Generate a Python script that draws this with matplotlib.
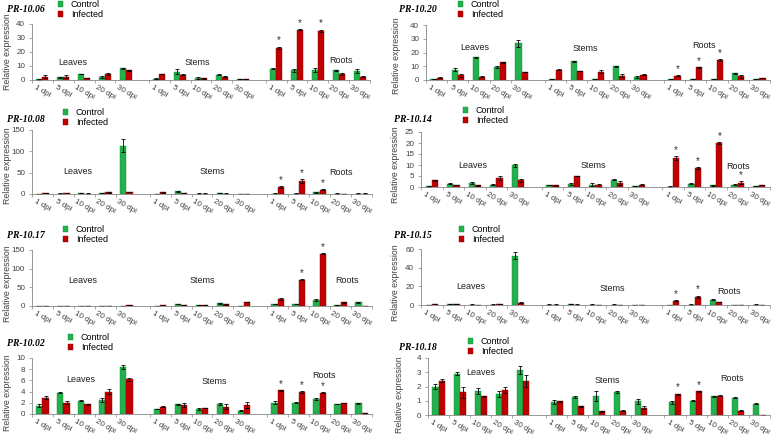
import numpy as np
import matplotlib
matplotlib.use('Agg')
import matplotlib.pyplot as plt

W, H = 778, 438
GREEN = '#22b14c'
RED = '#c00000'
GREY = '#868686'
TXT = '#404040'

plt.rcParams.update({
    'font.family': ['Liberation Sans', 'DejaVu Sans'],
    'font.size': 6,
})

# ── Categories ───────────────────────────────────────────────────────
DPI = ['1 dpi', '5 dpi', '10 dpi', '20 dpi', '30 dpi']
TISSUES = ['Leaves', 'Stems', 'Roots']
XLABELS = DPI * 3

# ── Data ─────────────────────────────────────────────────────────────
pr1006_ctrl = [0.5, 2.0, 4.3, 2.2, 8.3, 1.0, 6.0, 1.7, 3.7, 0.7, 8.0, 7.0, 7.0, 6.8, 6.5]
pr1006_ctrl_err = [0.2, 0.3, 0.2, 1.0, 0.4, 0.3, 1.8, 0.8, 0.3, 0.2, 0.4, 1.0, 1.5, 0.4, 1.5]
pr1006_inf = [2.5, 2.5, 1.3, 4.0, 7.0, 4.3, 3.7, 1.2, 2.5, 0.5, 23.0, 36.0, 35.0, 4.5, 2.5]
pr1006_inf_err = [1.0, 1.0, 0.2, 0.7, 0.3, 0.3, 0.3, 0.3, 0.6, 0.1, 0.8, 0.4, 1.0, 0.8, 0.3]
pr1006_sig = [10, 11, 12]

pr1020_ctrl = [0.5, 7.5, 16.5, 9.5, 26.8, 0.7, 13.5, 0.8, 10.0, 2.0, 0.6, 0.7, 0.7, 4.8, 0.8]
pr1020_ctrl_err = [0.1, 1.2, 0.3, 0.5, 2.5, 0.1, 0.5, 0.1, 0.3, 0.7, 0.1, 0.1, 0.1, 0.3, 0.1]
pr1020_inf = [1.8, 3.3, 2.5, 12.8, 5.8, 7.5, 6.5, 6.0, 3.2, 3.8, 3.2, 9.3, 14.5, 2.7, 1.5]
pr1020_inf_err = [0.3, 1.0, 0.5, 0.3, 0.3, 0.3, 0.3, 1.0, 1.3, 0.3, 0.5, 0.3, 1.0, 1.3, 0.3]
pr1020_sig = [10, 11, 12]

pr1008_ctrl = [0.5, 1.0, 2.0, 1.5, 113, 0.5, 6.0, 1.0, 3.0, 0.5, 1.0, 1.0, 4.0, 1.0, 1.0]
pr1008_ctrl_err = [0.2, 0.3, 0.5, 0.3, 15, 0.2, 0.5, 0.2, 0.5, 0.2, 0.2, 0.2, 0.8, 0.2, 0.2]
pr1008_inf = [2.0, 2.0, 1.0, 4.0, 5.0, 4.0, 2.5, 1.0, 1.0, 0.5, 16, 30, 10, 0.5, 1.0]
pr1008_inf_err = [0.3, 0.3, 0.2, 0.5, 0.8, 0.5, 0.3, 0.2, 0.2, 0.1, 2.0, 4.0, 1.0, 0.1, 0.2]
pr1008_sig = [10, 11, 12]

pr1014_ctrl = [0.3, 1.5, 1.8, 1.0, 9.8, 0.8, 1.2, 1.1, 3.3, 0.4, 0.2, 1.5, 0.8, 1.0, 0.4]
pr1014_ctrl_err = [0.1, 0.2, 0.6, 0.2, 0.5, 0.1, 0.4, 0.7, 0.3, 0.1, 0.05, 0.2, 0.3, 0.2, 0.1]
pr1014_inf = [3.0, 0.8, 0.7, 4.0, 3.0, 0.7, 5.0, 0.7, 1.8, 1.1, 13.2, 8.7, 20.0, 2.0, 1.0]
pr1014_inf_err = [0.2, 0.1, 0.1, 0.8, 0.5, 0.1, 0.2, 0.6, 0.8, 0.1, 0.8, 0.4, 0.5, 0.7, 0.1]
pr1014_sig = [10, 11, 12, 13]

pr1017_ctrl = [0.5, 0.5, 0.5, 0.5, 0.5, 0.5, 5.0, 2.0, 7.0, 0.5, 5.0, 5.0, 17, 3.0, 10]
pr1017_ctrl_err = [0.1, 0.1, 0.1, 0.1, 0.1, 0.1, 0.5, 0.3, 0.8, 0.1, 0.5, 0.5, 2.5, 0.3, 1.0]
pr1017_inf = [0.5, 0.5, 1.0, 1.0, 2.0, 3.0, 2.0, 2.0, 4.5, 11, 18, 70, 140, 10, 0.5]
pr1017_inf_err = [0.1, 0.1, 0.1, 0.1, 0.3, 0.3, 0.2, 0.3, 0.5, 0.8, 3.0, 1.5, 2.0, 0.8, 0.1]
pr1017_sig = [11, 12]

pr1015_ctrl = [0.3, 0.8, 0.5, 0.5, 53, 0.5, 0.8, 0.5, 0.5, 0.3, 0.3, 0.5, 5.5, 0.3, 0.5]
pr1015_ctrl_err = [0.1, 0.1, 0.1, 0.1, 4.0, 0.1, 0.1, 0.1, 0.1, 0.1, 0.1, 0.1, 0.5, 0.1, 0.1]
pr1015_inf = [0.8, 0.8, 0.3, 1.3, 2.5, 0.5, 0.5, 0.1, 0.3, 0.3, 4.5, 8.5, 3.0, 0.1, 0.1]
pr1015_inf_err = [0.1, 0.1, 0.1, 0.2, 0.3, 0.1, 0.1, 0.05, 0.1, 0.1, 0.5, 1.5, 0.3, 0.05, 0.05]
pr1015_sig = [10, 11]

pr1002_ctrl = [1.5, 3.8, 2.4, 2.5, 8.4, 0.9, 1.7, 0.9, 1.8, 0.6, 2.0, 2.0, 2.7, 1.8, 1.9]
pr1002_ctrl_err = [0.3, 0.05, 0.05, 0.3, 0.4, 0.05, 0.05, 0.2, 0.2, 0.05, 0.3, 0.1, 0.2, 0.05, 0.05]
pr1002_inf = [2.9, 2.0, 1.7, 4.0, 6.2, 1.3, 1.6, 1.1, 1.3, 1.6, 4.2, 3.9, 3.8, 2.0, 0.1]
pr1002_inf_err = [0.3, 0.3, 0.1, 0.4, 0.3, 0.05, 0.3, 0.05, 0.4, 0.6, 0.05, 0.2, 0.05, 0.05, 0.02]
pr1002_sig = [10, 11, 12]

pr1018_ctrl = [2.0, 2.9, 1.7, 1.45, 3.15, 0.9, 1.25, 1.3, 1.6, 0.95, 0.9, 1.0, 1.3, 1.2, 0.8]
pr1018_ctrl_err = [0.2, 0.1, 0.2, 0.2, 0.3, 0.15, 0.05, 0.35, 0.05, 0.15, 0.1, 0.05, 0.03, 0.03, 0.05]
pr1018_inf = [2.4, 1.6, 1.3, 1.75, 2.4, 0.95, 0.6, 0.25, 0.3, 0.5, 1.45, 1.65, 1.35, 0.3, 0.0]
pr1018_inf_err = [0.1, 0.4, 0.03, 0.2, 0.4, 0.05, 0.05, 0.05, 0.03, 0.1, 0.05, 0.05, 0.05, 0.02, 0.0]
pr1018_sig = [10, 11]

# ── Layout: axes box (left, top, right, bottom) in px, y ticks,
#    tissue label positions (x in category units, y in axes fraction),
#    title position and legend anchor in px,
#    y-label anchor (x px, y axes frac) ─────────────────────────────
PANELS = [
    dict(name='PR-10.06', data=(pr1006_ctrl, pr1006_ctrl_err, pr1006_inf, pr1006_inf_err, pr1006_sig),
         box=(32, 24, 370, 80), yticks=[0, 10, 20, 30, 40],
         tis=[(1.45, 0.31), (7.4, 0.31), (14.3, 0.34)], title=(7, 10), leg=(58, 0), ylab=(12, 0.5)),
    dict(name='PR-10.20', data=(pr1020_ctrl, pr1020_ctrl_err, pr1020_inf, pr1020_inf_err, pr1020_sig),
         box=(426, 25, 770, 80), yticks=[0, 10, 20, 30, 40],
         tis=[(1.8, 0.6), (7.0, 0.58), (12.6, 0.62)], title=(399, 10), leg=(458, 0), ylab=(401, 0.45)),
    dict(name='PR-10.08', data=(pr1008_ctrl, pr1008_ctrl_err, pr1008_inf, pr1008_inf_err, pr1008_sig),
         box=(32, 130, 372, 194), yticks=[0, 50, 100, 150],
         tis=[(1.7, 0.35), (8.1, 0.35), (14.2, 0.33)], title=(7, 120), leg=(63, 108), ylab=(12, 0.45)),
    dict(name='PR-10.14', data=(pr1014_ctrl, pr1014_ctrl_err, pr1014_inf, pr1014_inf_err, pr1014_sig),
         box=(421, 132, 770, 187), yticks=[0, 5, 10, 15, 20, 25],
         tis=[(1.9, 0.4), (7.5, 0.4), (14.2, 0.37)], title=(394, 119), leg=(463, 106), ylab=(400, 0.4)),
    dict(name='PR-10.17', data=(pr1017_ctrl, pr1017_ctrl_err, pr1017_inf, pr1017_inf_err, pr1017_sig),
         box=(32, 250, 372, 306), yticks=[0, 50, 100, 150],
         tis=[(1.9, 0.46), (7.6, 0.46), (14.5, 0.45)], title=(7, 235), leg=(63, 225), ylab=(12, 0.4)),
    dict(name='PR-10.15', data=(pr1015_ctrl, pr1015_ctrl_err, pr1015_inf, pr1015_inf_err, pr1015_sig),
         box=(421, 249, 770, 305), yticks=[0, 20, 40, 60],
         tis=[(1.8, 0.33), (8.4, 0.29), (13.8, 0.24)], title=(394, 236), leg=(459, 225), ylab=(400, 0.4)),
    dict(name='PR-10.02', data=(pr1002_ctrl, pr1002_ctrl_err, pr1002_inf, pr1002_inf_err, pr1002_sig),
         box=(32, 358, 372, 414), yticks=[0, 2, 4, 6, 8, 10],
         tis=[(1.8, 0.61), (8.2, 0.58), (13.4, 0.69)], title=(7, 343), leg=(68, 333), ylab=(12, 0.38)),
    dict(name='PR-10.18', data=(pr1018_ctrl, pr1018_ctrl_err, pr1018_inf, pr1018_inf_err, pr1018_sig),
         box=(428, 358, 770, 415), yticks=[0, 1, 2, 3, 4],
         tis=[(2.0, 0.74), (8.0, 0.6), (13.9, 0.64)], title=(399, 348), leg=(468, 337), ylab=(404, 0.35)),
]

# category positions: 5 time points per tissue, gap between tissues
XPOS = np.concatenate([np.arange(5), np.arange(5) + 5.6, np.arange(5) + 11.2])
BW = 0.29
XLIM = (-0.4, 15.55)

fig = plt.figure(figsize=(W / 100, H / 100), dpi=100)

for p in PANELS:
    ctrl, ctrl_err, inf, inf_err, sig = p['data']
    l, t, r, b = p['box']
    ax = fig.add_axes([l / W, 1 - b / H, (r - l) / W, (b - t) / H])

    ekw = dict(ecolor='black', elinewidth=0.6, capsize=1.3, capthick=0.6)
    hc = ax.bar(XPOS - BW / 2, ctrl, BW, yerr=ctrl_err, color=GREEN,
                edgecolor='#178a3a', linewidth=0.3, error_kw=ekw, label='Control')
    hi = ax.bar(XPOS + BW / 2, inf, BW, yerr=inf_err, color=RED,
                edgecolor='#8a0000', linewidth=0.3, error_kw=ekw, label='Infected')

    ymax = p['yticks'][-1]
    for i in sig:
        ax.text(XPOS[i] + BW / 2, inf[i] + inf_err[i] + ymax * 0.02, '*',
                ha='center', va='bottom', fontsize=7, color='#303030')

    ax.set_xlim(XLIM)
    ax.set_ylim(0, ymax)
    ax.set_yticks(p['yticks'])
    ax.set_xticks(XPOS)
    ax.set_xticklabels(XLABELS, rotation=-30, ha='center', fontsize=5.8, color=TXT)
    ax.set_xticks(np.concatenate([XPOS - 0.5, [XPOS[-1] + 0.5]]), minor=True)
    ax.tick_params(axis='x', which='major', length=0, pad=3)
    ax.tick_params(axis='x', which='minor', length=2, color=GREY, width=0.5)
    ax.tick_params(axis='y', length=2, color=GREY, width=0.5, labelsize=5.8,
                   labelcolor=TXT, pad=3)
    for s in ('top', 'right'):
        ax.spines[s].set_visible(False)
    for s in ('left', 'bottom'):
        ax.spines[s].set_color(GREY)
        ax.spines[s].set_linewidth(0.6)
    ax.set_ylabel('Relative expression', fontsize=6.3, color=TXT)
    lx, ly = p['ylab']
    ax.yaxis.set_label_coords((lx - l) / (r - l), ly)

    for name, (tx, ty) in zip(TISSUES, p['tis']):
        ax.text(tx, ty * ymax, name, ha='center', va='center', fontsize=6.5, color='#202020')

    fig.text(p['title'][0] / W, 1 - p['title'][1] / H, p['name'], ha='left', va='center',
             fontsize=7, fontweight='bold', fontstyle='italic',
             family=['Liberation Serif', 'DejaVu Serif'])
    ax.legend(handles=[hc, hi], loc='upper left',
              bbox_to_anchor=(p['leg'][0] / W, 1 - p['leg'][1] / H),
              bbox_transform=fig.transFigure, frameon=False, fontsize=6.5,
              handlelength=0.6, handleheight=0.6, handletextpad=0.8,
              labelspacing=0.15, borderpad=0, borderaxespad=0)

fig.savefig('out.png', dpi=100)
